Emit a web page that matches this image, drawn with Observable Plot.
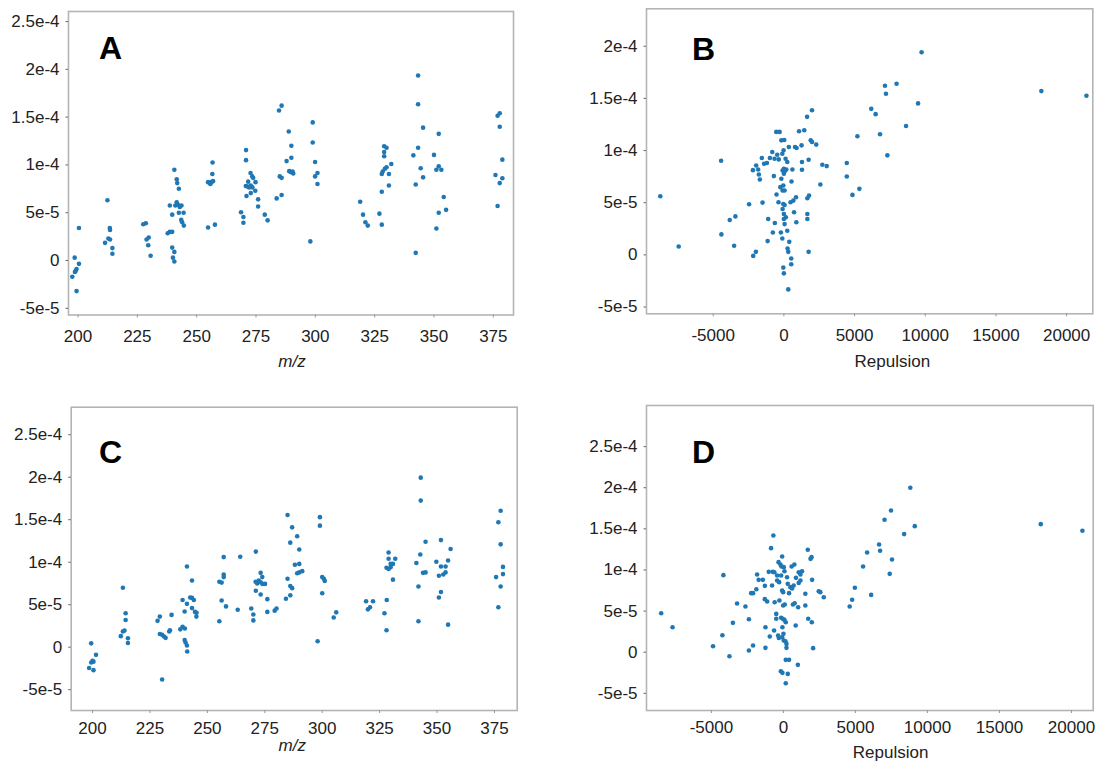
<!DOCTYPE html>
<html>
<head>
<meta charset="utf-8">
<script src="https://cdn.jsdelivr.net/npm/d3@7"></script>
<script src="https://cdn.jsdelivr.net/npm/@observablehq/plot@0.6"></script>
<style>
  body { margin: 0; background: #fff; }
  #fig { position: relative; width: 1097px; height: 765px; overflow: hidden; background: #fff;
         font-family: "Liberation Sans", Arial, sans-serif; }
  #fig svg { position: absolute; overflow: visible; }
</style>
</head>
<body>
<div id="fig"></div>
<script>
// Panel A: score vs m/z
const panelA = [
  [197.6,-1.7e-5],[198.6,0.3e-5],[199,-1.1e-5],[199.4,-0.9e-5],[198.7,-1.2e-5],[199.4,-3.2e-5],[200.4,-0.35e-5],[200.4,3.4e-5],
  [212.4,6.3e-5],[211.4,1.85e-5],[212.8,2.3e-5],[213.5,2.2e-5],[213.4,3.4e-5],[213.5,3.2e-5],[214.5,1.3e-5],[214.5,0.7e-5],
  [227.5,3.8e-5],[228.6,3.9e-5],[228.9,2.2e-5],[229.8,2.4e-5],[229.6,1.6e-5],[230.6,0.5e-5],
  [240.6,9.5e-5],[241.6,8.5e-5],[241.8,8.1e-5],[242.5,7.5e-5],[238.7,5.75e-5],[239.7,4.8e-5],[241,5.75e-5],[241.6,6.1e-5],
  [242.2,5.8e-5],[242.9,5.6e-5],[243.6,5.75e-5],[242.5,5e-5],[244.5,5e-5],[243.5,4.25e-5],[243.9,4e-5],[244.6,3.65e-5],
  [237.8,2.85e-5],[238.7,3e-5],[239.7,3e-5],[239.7,1.35e-5],[240.6,0.9e-5],[240,0.3e-5],[240.6,-0.1e-5],
  [256.7,10.25e-5],[256.6,9.05e-5],[254.8,8.2e-5],[255.5,8.1e-5],[256.2,8.2e-5],[256.9,8.3e-5],[255.8,8e-5],[254.8,3.45e-5],[257.7,3.75e-5],
  [270.8,11.55e-5],[270.8,10.5e-5],[272.7,9.15e-5],[273.4,8.8e-5],[271.7,8.25e-5],[273.8,8.65e-5],[270.7,7.8e-5],[271.4,7.75e-5],
  [272.1,7.65e-5],[272.8,7.85e-5],[273.5,7.65e-5],[274.8,8.2e-5],[274.7,7.3e-5],[272.8,7.05e-5],[271,6.75e-5],[275.9,6.4e-5],
  [275.9,5.65e-5],[268.7,5.05e-5],[269.7,4.55e-5],[269.7,3.95e-5],[278.7,4.8e-5],[279.9,4.2e-5],
  [284.7,15.7e-5],[285.8,16.2e-5],[288.8,13.5e-5],[289.9,12e-5],[289.9,10.75e-5],[287.9,10.4e-5],[289,9.35e-5],[289.7,9.25e-5],
  [290.4,9.3e-5],[290.7,9.1e-5],[285,8.8e-5],[285.8,8.65e-5],[285.8,6.85e-5],[283.7,6.5e-5],
  [298.9,14.45e-5],[298.9,12.35e-5],[299.9,10.3e-5],[299.9,8.8e-5],[300.9,9.15e-5],[300.9,8e-5],[297.9,2e-5],
  [318.9,6.15e-5],[320.1,4.8e-5],[321.1,4e-5],[322.1,3.65e-5],[327,4.9e-5],[328,3.75e-5],[328,7.2e-5],[329,11.95e-5],
  [330,11.8e-5],[329,11.35e-5],[329,10.9e-5],[330,9.75e-5],[329.3,9.6e-5],[328.4,9.3e-5],[328,9.05e-5],[331,9.05e-5],
  [332,10.1e-5],[331,7.85e-5],
  [343.3,19.35e-5],[343.3,16.35e-5],[345.4,13.9e-5],[343.3,11.8e-5],[341.3,11e-5],[344.4,9.65e-5],[345.4,8.7e-5],[342.3,7.95e-5],
  [342.3,0.8e-5],[352,13.25e-5],[350,11.05e-5],[351,9.5e-5],[352,9.85e-5],[353.1,9.5e-5],[354.1,6.65e-5],[352,5e-5],
  [355.1,5.3e-5],[351,3.35e-5],
  [376.8,15.15e-5],[377.7,15.4e-5],[377.7,14e-5],[378.8,10.55e-5],[375.9,8.95e-5],[378.8,8.6e-5],[377.7,8.1e-5],[376.8,5.7e-5]
];

// Panel B: score vs repulsion
const panelB = [
  [-8740,5.62e-5],[-7440,0.8e-5],[-4440,9.02e-5],[-4420,1.96e-5],[-3830,3.34e-5],[-3430,3.69e-5],[-3520,0.87e-5],[-2460,4.85e-5],
  [-2170,-0.1e-5],[-1980,0.29e-5],[-2190,8.12e-5],[-1960,8.57e-5],[-1820,8.19e-5],[-1770,7.71e-5],[-1700,7.23e-5],[-1560,9.28e-5],
  [-1510,5.01e-5],[-1400,8.73e-5],[-1200,8.8e-5],[-1110,3.44e-5],[-1150,1.32e-5],[-990,9.28e-5],[-820,9.86e-5],[-780,2.15e-5],
  [-710,7.55e-5],[-640,3.05e-5],[-540,11.79e-5],[-300,11.79e-5],[-660,9.22e-5],[-470,9.6e-5],[-360,9.15e-5],[-520,5.78e-5],
  [-380,5.04e-5],[-250,6.49e-5],[-210,2.15e-5],[-110,1.57e-5],[-180,10.98e-5],[30,11.01e-5],[-110,9.7e-5],[-20,10.02e-5],
  [-90,8.09e-5],[0,8.25e-5],[70,8.03e-5],[170,8.19e-5],[0,7.77e-5],[-180,7.29e-5],[-40,6.65e-5],[50,6.17e-5],
  [-90,6.17e-5],[120,9.22e-5],[240,8.9e-5],[350,10.34e-5],[-40,4.88e-5],[50,4.78e-5],[-90,4.4e-5],[0,3.92e-5],
  [140,3.6e-5],[0,3.44e-5],[50,2.95e-5],[240,2.31e-5],[260,0.61e-5],[310,0.29e-5],[520,-0.35e-5],[520,-0.9e-5],
  [-40,-1.22e-5],[0,-1.77e-5],[310,-3.31e-5],[380,1.25e-5],[470,5.04e-5],[540,7.03e-5],[600,8.19e-5],[670,5.2e-5],
  [720,4.08e-5],[860,5.52e-5],[880,3.12e-5],[790,10.34e-5],[900,10.24e-5],[1070,11.85e-5],[1250,10.5e-5],[1280,8.16e-5],
  [1280,8.9e-5],[1440,11.95e-5],[1640,13.23e-5],[1990,13.87e-5],[1750,9.12e-5],[1660,5.43e-5],[1780,5.68e-5],[1660,3.92e-5],
  [1660,3.44e-5],[1750,0.29e-5],[1900,10.98e-5],[1990,10.82e-5],[2290,10.57e-5],[2580,6.74e-5],[2720,8.64e-5],[3030,8.51e-5],
  [4450,8.8e-5],[4450,7.51e-5],[4850,5.75e-5],[5200,11.37e-5],[5340,6.33e-5],[6180,14e-5],[6490,13.49e-5],[6800,11.56e-5],
  [7150,16.22e-5],[7220,15.45e-5],[7320,9.54e-5],[7970,16.41e-5],[8640,12.36e-5],[9490,14.52e-5],[9740,19.43e-5],
  [18210,15.7e-5],[21400,15.25e-5]
];

// Panel C: score vs m/z
const panelC = [
  [199.4,0.45e-5],[198.5,-2.45e-5],[199.4,-1.8e-5],[200,-1.6e-5],[200.4,-2.7e-5],[200.4,-1.7e-5],[201.5,-0.9e-5],
  [213.2,7e-5],[214.4,4e-5],[214.4,3.2e-5],[212.3,1.3e-5],[213.2,1.85e-5],[213.9,1.95e-5],[215.4,1.05e-5],[215.4,0.5e-5],
  [229.3,3.6e-5],[228.3,3.1e-5],[229.3,1.55e-5],[230.3,1.45e-5],[231.1,1.25e-5],[231.8,1.1e-5],[233.4,1.85e-5],[233.7,2e-5],
  [234.4,3.8e-5],[230.3,-3.8e-5],
  [241.1,9.5e-5],[243.3,7.85e-5],[242.5,5.85e-5],[243.3,5.8e-5],[244.1,5.55e-5],[239.2,5.55e-5],[241.1,5.1e-5],[240.1,4.2e-5],
  [243.3,4.6e-5],[244.6,4.15e-5],[245.3,4.05e-5],[245.2,3.6e-5],[238.2,2.1e-5],[239.2,2.4e-5],[240.2,2.2e-5],[240.1,0.85e-5],
  [240.5,0.55e-5],[241.1,0.2e-5],[241.2,-0.5e-5],
  [257.1,10.6e-5],[257.1,8.55e-5],[257.1,8.25e-5],[255.2,7.7e-5],[256.2,7.6e-5],[256.2,5.5e-5],[258.1,4.8e-5],[255.2,3.05e-5],
  [264.3,10.65e-5],[263.2,4.4e-5],
  [271.1,11.25e-5],[273.2,8.75e-5],[271,7.7e-5],[271.7,7.5e-5],[272.4,7.85e-5],[273.2,7.65e-5],[274,7.45e-5],[275.1,7.45e-5],
  [273.9,8.25e-5],[271.1,6.65e-5],[273.2,6.2e-5],[276.1,5.65e-5],[269.1,4.55e-5],[270,3.85e-5],[270,3.15e-5],[276.1,4.15e-5],
  [279.3,4.3e-5],[280.1,4.55e-5],
  [284.9,15.55e-5],[286.9,14.1e-5],[286.1,12.3e-5],[289.1,13.05e-5],[290,11.5e-5],[288.1,9.7e-5],[289.1,8.7e-5],[290,8.8e-5],
  [290,9.8e-5],[284.9,8.05e-5],[286.1,7.2e-5],[286.9,6.95e-5],[286.1,6.1e-5],[284.2,5.7e-5],[291.3,8.95e-5],
  [299,15.3e-5],[299,14.3e-5],[300,8.25e-5],[300.7,8.05e-5],[301.1,7.8e-5],[300,6.35e-5],[298,0.7e-5],[305,3.5e-5],[306.1,4.1e-5],
  [319.1,5.4e-5],[319.9,4.45e-5],[320.8,4.7e-5],[322.1,5.4e-5],[327.1,4e-5],[328.1,5.55e-5],[328,2e-5],[328.9,11.15e-5],
  [328.9,10.4e-5],[328,9.35e-5],[328.9,9.2e-5],[329.8,9.4e-5],[329.8,9.8e-5],[330.8,9.8e-5],[331.8,10.4e-5],[330.8,7.95e-5],
  [342.9,19.95e-5],[342.9,17.25e-5],[345,12.4e-5],[342.7,10.9e-5],[341,9.9e-5],[343.9,8.75e-5],[345,8.8e-5],[341.9,7.15e-5],
  [341.9,3.05e-5],[351.7,12.6e-5],[355.9,11.55e-5],[349.7,10.05e-5],[351.7,9.5e-5],[353.7,9.5e-5],[354.8,10.2e-5],[350.8,8.4e-5],
  [352.7,8.55e-5],[353.7,8.8e-5],[351.7,6.5e-5],[350.8,5.85e-5],[354.8,2.65e-5],
  [377.7,16.05e-5],[376.7,14.7e-5],[377.7,12.1e-5],[378.7,9.45e-5],[378.7,8.6e-5],[375.7,8.25e-5],[377.7,7.15e-5],[376.7,4.7e-5]
];

// Panel D: score vs repulsion
const panelD = [
  [-8490,4.74e-5],[-7700,3.04e-5],[-4890,0.73e-5],[-4170,9.37e-5],[-4240,2.07e-5],[-3750,-0.49e-5],[-3510,3.57e-5],[-3220,5.92e-5],
  [-2640,5.56e-5],[-2400,4.01e-5],[-2400,0.2e-5],[-2110,0.81e-5],[-2240,7.18e-5],[-2110,7.18e-5],[-1880,7.66e-5],[-1830,9.45e-5],
  [-1720,8.8e-5],[-1430,8.8e-5],[-1290,8.07e-5],[-1290,6.45e-5],[-1130,6.16e-5],[-1250,3.04e-5],[-1250,0.53e-5],[-1020,9.77e-5],
  [-950,1.91e-5],[-860,12.65e-5],[-700,14.19e-5],[-790,8.11e-5],[-740,9.77e-5],[-650,2.64e-5],[-610,6.08e-5],[-630,9.73e-5],
  [-500,4.66e-5],[-500,4.06e-5],[-440,9.33e-5],[-340,10.95e-5],[-300,8.52e-5],[-440,8.72e-5],[-370,2.03e-5],[-320,1.74e-5],
  [-280,6.29e-5],[-210,10.67e-5],[-180,-2.31e-5],[-90,11.64e-5],[-160,9.33e-5],[-140,10.42e-5],[-70,-2.51e-5],[-90,7.5e-5],
  [-20,7.3e-5],[20,10.34e-5],[70,9.85e-5],[-20,5.68e-5],[90,5.8e-5],[-160,4.18e-5],[-50,4.06e-5],[70,3.93e-5],
  [-70,3.04e-5],[0,2.23e-5],[-90,1.82e-5],[20,1.42e-5],[140,1.34e-5],[210,1.01e-5],[210,0.53e-5],[160,-0.93e-5],
  [390,-0.93e-5],[160,-3.77e-5],[300,-2.64e-5],[1000,-1.54e-5],[160,3.65e-5],[250,9.12e-5],[300,8.31e-5],[390,7.18e-5],
  [480,7.91e-5],[600,7.75e-5],[710,8.11e-5],[570,10.42e-5],[760,10.67e-5],[870,9.04e-5],[660,5.8e-5],[780,5.96e-5],
  [850,3.24e-5],[1020,5.47e-5],[1060,8.43e-5],[1060,9.73e-5],[1180,9.45e-5],[1290,9.85e-5],[1180,8.72e-5],[1520,7.1e-5],
  [1520,5.68e-5],[1690,12.45e-5],[1720,4.06e-5],[1880,11.35e-5],[1950,11.56e-5],[1970,3.65e-5],[1990,8.8e-5],[2060,0.49e-5],
  [2450,7.42e-5],[2560,7.3e-5],[2800,6.69e-5],[4600,5.56e-5],[4770,6.37e-5],[4960,7.83e-5],
  [5530,10.42e-5],[5810,12.12e-5],[6090,6.97e-5],[6640,13.1e-5],[6710,12.33e-5],[7020,16.1e-5],[7380,9.53e-5],[7470,17.23e-5],
  [7540,11.27e-5],[8380,14.36e-5],[8810,19.99e-5],[9120,15.33e-5],[17870,15.57e-5],[20760,14.76e-5]
];

// Axis ticks and their printed labels
const mzTicks = [200, 225, 250, 275, 300, 325, 350, 375];
const mzTickLabels = ["200", "225", "250", "275", "300", "325", "350", "375"];
const repulsionTicks = [-5000, 0, 5000, 10000, 15000, 20000];
const repulsionTickLabels = ["-5000", "0", "5000", "10000", "15000", "20000"];
const scoreTicks = [-5e-5, 0, 5e-5, 1e-4, 1.5e-4, 2e-4, 2.5e-4];
const scoreTickLabels = ["-5e-5", "0", "5e-5", "1e-4", "1.5e-4", "2e-4", "2.5e-4"];

const FONT = "'Liberation Sans', Arial, Helvetica, sans-serif";
const fig = document.getElementById("fig");

function lookup(ticks, labels) {
  return d => labels[ticks.indexOf(d)];
}

function drawPanel(p) {
  const [left, top, width, height] = p.box;
  const [mt, mr, mb, ml] = p.margin;
  const yt = scoreTicks.filter(t => t >= p.yDomain[0] && t <= p.yDomain[1]);
  const chart = Plot.plot({
    width, height,
    marginTop: mt, marginRight: mr, marginBottom: mb, marginLeft: ml,
    x: {domain: p.xDomain},
    y: {domain: p.yDomain},
    style: {fontFamily: FONT, fontSize: "17px", color: "#222", background: "transparent", overflow: "visible"},
    marks: [
      Plot.frame({stroke: "#b4b4b4", strokeWidth: 1.6}),
      Plot.axisY(yt, {
        tickFormat: lookup(scoreTicks, scoreTickLabels),
        tickSize: 2.5, tickPadding: 6.5, stroke: "#666", fill: "#222", fontSize: 17, label: null
      }),
      Plot.axisX(p.xTicks, {
        tickFormat: lookup(p.xTicks, p.xTickLabels),
        tickSize: 3, tickPadding: p.xPad, stroke: "#999", fill: "#222", fontSize: 17, label: null
      }),
      Plot.dot(p.data, {x: d => d[0], y: d => d[1], r: 2.3, fill: "#1f77b4", stroke: "none"}),
      Plot.text([p.letter], {
        text: d => d, frameAnchor: "top-left", dx: p.letterAt[0], dy: p.letterAt[1],
        textAnchor: "middle", lineAnchor: "middle", fontSize: 32, fontWeight: "bold", fill: "#000"
      }),
      Plot.text([p.xLabel], {
        text: d => d, frameAnchor: "bottom", dx: p.labelAt[0], dy: p.labelAt[1],
        textAnchor: "middle", lineAnchor: "middle", fontSize: 17, fill: "#222",
        fontStyle: p.italic ? "italic" : "normal"
      })
    ]
  });
  chart.style.left = left + "px";
  chart.style.top = top + "px";
  fig.appendChild(chart);
}

drawPanel({
  data: panelA, letter: "A", xLabel: "m/z", italic: true,
  box: [0, 0, 540, 380], margin: [11, 27, 65.5, 68],
  xDomain: [196, 383.5], yDomain: [-5.7e-5, 26.05e-5],
  xTicks: mzTicks, xTickLabels: mzTickLabels, xPad: 11.5,
  letterAt: [42, 37], labelAt: [1, 46.5]
});

drawPanel({
  data: panelB, letter: "B", xLabel: "Repulsion", italic: false,
  box: [580, 0, 517, 380], margin: [8.3, 4.7, 66.7, 66],
  xDomain: [-9717, 21850], yDomain: [-5.65e-5, 23.59e-5],
  xTicks: repulsionTicks, xTickLabels: repulsionTickLabels, xPad: 12,
  letterAt: [57, 41], labelAt: [22.7, 48.2]
});

drawPanel({
  data: panelC, letter: "C", xLabel: "m/z", italic: true,
  box: [0, 390, 540, 375], margin: [16.7, 23.3, 55, 70.7],
  xDomain: [190.7, 384.9], yDomain: [-7.45e-5, 28.24e-5],
  xTicks: mzTicks, xTickLabels: mzTickLabels, xPad: 8.7,
  letterAt: [39.3, 45.3], labelAt: [-2, 35]
});

drawPanel({
  data: panelD, letter: "D", xLabel: "Repulsion", italic: false,
  box: [580, 390, 517, 375], margin: [15, 4.3, 55, 66],
  xDomain: [-9510, 21510], yDomain: [-7.09e-5, 30.0e-5],
  xTicks: repulsionTicks, xTickLabels: repulsionTickLabels, xPad: 7,
  letterAt: [57, 47], labelAt: [20.7, 42]
});
</script>
</body>
</html>
